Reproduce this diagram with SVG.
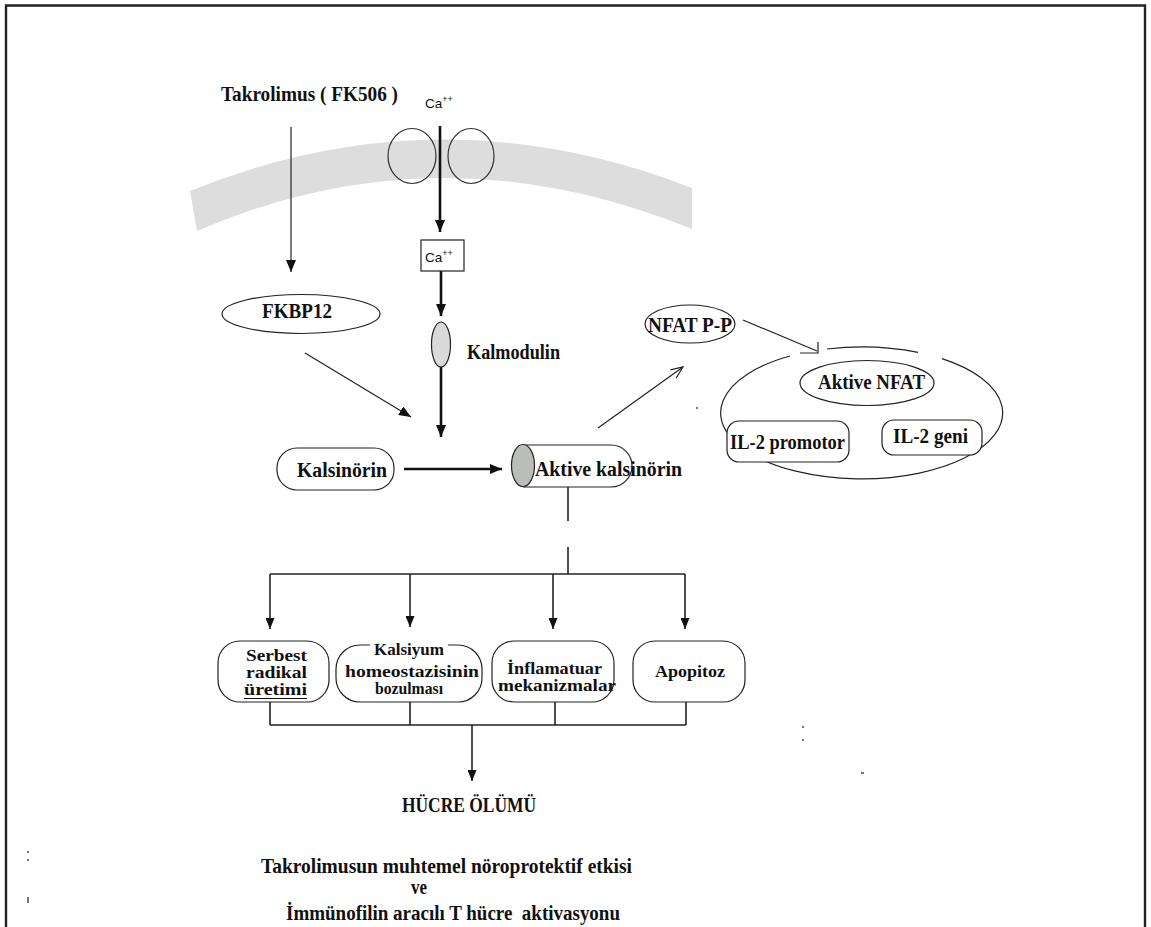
<svg xmlns="http://www.w3.org/2000/svg" width="1151" height="927" viewBox="0 0 1151 927">
<style>
.t{font-family:"Liberation Serif","Times New Roman",serif;font-weight:bold;font-size:20px;fill:#111}
.s{font-size:16px}
.big{font-size:20px}
.ca{font-family:"Liberation Sans",Arial,sans-serif;font-size:13.5px;fill:#111}
.n{fill:#fff;stroke:#222;stroke-width:1.2}
.thin{stroke:#222;stroke-width:1.2;fill:none}
.thick{stroke:#111;stroke-width:2.6;fill:none}
.mid{stroke:#222;stroke-width:1.6;fill:none}
</style>
<defs>
<marker id="ah" markerUnits="userSpaceOnUse" markerWidth="12" markerHeight="10" viewBox="0 0 12 10" refX="12" refY="5" orient="auto">
<path d="M0,0 L12,5 L0,10 Z" fill="#111"/>
</marker>
<marker id="ahs" markerUnits="userSpaceOnUse" markerWidth="11" markerHeight="9" viewBox="0 0 11 9" refX="11" refY="4.5" orient="auto">
<path d="M0,0 L11,4.5 L0,9 Z" fill="#111"/>
</marker>
<marker id="open" markerUnits="userSpaceOnUse" markerWidth="14" markerHeight="12" viewBox="0 0 14 12" refX="13" refY="6" orient="auto">
<path d="M1,1 L13,6 L1,11" fill="none" stroke="#222" stroke-width="1.2"/>
</marker>
</defs>

<!-- frame -->
<path d="M6,927 V5.5 H1145 V927" fill="none" stroke="#222" stroke-width="2.4"/>

<!-- membrane -->
<g id="membrane">
<path d="M190,191 Q440,89.5 692,188 L692,229 Q440,126 197,231 Z" fill="#dddddd"/>
<ellipse cx="412" cy="156" rx="24" ry="27.5" fill="none" stroke="#333" stroke-width="1.2"/>
<ellipse cx="471" cy="156" rx="23" ry="27.5" fill="none" stroke="#333" stroke-width="1.2"/>
</g>

<!-- connectors -->
<g id="connectors">
<line x1="291" y1="127" x2="291" y2="272" class="thin" marker-end="url(#ah)"/>
<line x1="440" y1="126" x2="440" y2="232" class="thick" marker-end="url(#ah)"/>
<line x1="441" y1="271" x2="441" y2="316" class="thick" marker-end="url(#ah)"/>
<line x1="441" y1="367" x2="441" y2="437" class="thick" marker-end="url(#ah)"/>
<line x1="305" y1="353" x2="411" y2="417" class="thin" marker-end="url(#ah)"/>
<line x1="404" y1="469" x2="502" y2="469" class="thick" marker-end="url(#ah)"/>
<line x1="598" y1="428" x2="683" y2="367" class="thin" marker-end="url(#open)"/>
<path d="M743,320 L817,351 M800,353 H818 V342" class="thin"/>
<line x1="568" y1="487" x2="568" y2="521" class="mid"/>
<line x1="568" y1="547" x2="568" y2="574" class="mid"/>
<path d="M270,574 H685" class="mid"/>
<line x1="270" y1="574" x2="270" y2="629" class="mid" marker-end="url(#ahs)"/>
<line x1="410" y1="574" x2="410" y2="627" class="mid" marker-end="url(#ahs)"/>
<line x1="553" y1="574" x2="553" y2="629" class="mid" marker-end="url(#ahs)"/>
<line x1="685" y1="574" x2="685" y2="629" class="mid" marker-end="url(#ahs)"/>
<path d="M270,702 V725 M410,702 V725 M555,702 V725 M686,702 V725 M270,725 H686" class="mid"/>
<line x1="472" y1="725" x2="472" y2="781" class="mid" marker-end="url(#ahs)"/>
</g>

<!-- nodes -->
<g id="takrolimus"><text class="t" x="221" y="101" textLength="177" lengthAdjust="spacingAndGlyphs">Takrolimus ( FK506 )</text></g>
<g id="ca-out"><text class="ca" x="425" y="108">Ca<tspan dy="-6" font-size="9">++</tspan></text></g>
<g id="ca-in">
<rect x="421" y="240" width="43" height="31" fill="#fff" stroke="#222" stroke-width="1.2"/>
<text class="ca" x="425" y="262">Ca<tspan dy="-6" font-size="9">++</tspan></text>
</g>
<g id="fkbp12">
<ellipse cx="301" cy="314" rx="79" ry="19.5" class="n"/>
<text class="t" x="262" y="318" textLength="70" lengthAdjust="spacingAndGlyphs">FKBP12</text>
</g>
<g id="kalmodulin">
<ellipse cx="441" cy="344.5" rx="9.5" ry="22.5" fill="#d9d9d9" stroke="#222" stroke-width="1.2"/>
<text class="t" x="467" y="359" textLength="93" lengthAdjust="spacingAndGlyphs">Kalmodulin</text>
</g>
<g id="kalsinorin">
<rect x="277" y="448" width="117" height="42" rx="20" class="n"/>
<text class="t" x="297" y="477" textLength="90" lengthAdjust="spacingAndGlyphs">Kalsinörin</text>
</g>
<g id="aktive-kalsinorin">
<path d="M523,445 H611 A21,21 0 0 1 611,487 H523" class="n"/>
<ellipse cx="523" cy="465.5" rx="11.5" ry="21" fill="#b9bfb8" stroke="#222" stroke-width="1.2"/>
<text class="t" x="535" y="476" textLength="147" lengthAdjust="spacingAndGlyphs">Aktive kalsinörin</text>
</g>
<g id="nfat-pp">
<ellipse cx="690" cy="324" rx="45" ry="19" class="n"/>
<text class="t" x="648" y="332" textLength="84" lengthAdjust="spacingAndGlyphs">NFAT P-P</text>
</g>
<g id="nucleus">
<path d="M827,349 A141,66 0 0 1 918,352.4 M942,358.6 A141,66 0 1 1 790,356" class="thin"/>
</g>
<g id="aktive-nfat">
<ellipse cx="867" cy="383" rx="67" ry="22.5" class="n"/>
<text class="t" x="818" y="389" textLength="107" lengthAdjust="spacingAndGlyphs">Aktive NFAT</text>
</g>
<g id="il2-promotor">
<rect x="727" y="421" width="122" height="41" rx="12" class="n"/>
<text class="t" x="730" y="449" textLength="115" lengthAdjust="spacingAndGlyphs">IL-2 promotor</text>
</g>
<g id="il2-geni">
<rect x="882" y="420" width="100" height="35" rx="12" class="n"/>
<text class="t" x="893" y="443" textLength="75" lengthAdjust="spacingAndGlyphs">IL-2 geni</text>
</g>
<g id="serbest">
<rect x="218" y="641" width="111" height="61" rx="22" class="n"/>
<text class="t s" x="246" y="661" textLength="61" lengthAdjust="spacingAndGlyphs">Serbest</text>
<text class="t s" x="246" y="678" textLength="61" lengthAdjust="spacingAndGlyphs">radikal</text>
<text class="t s" x="244" y="695" textLength="63" lengthAdjust="spacingAndGlyphs">üretimi</text>
<line x1="244" y1="698.5" x2="307" y2="698.5" stroke="#111" stroke-width="1.2"/>
</g>
<g id="kalsiyum">
<rect x="336" y="645" width="146" height="57" rx="24" class="n"/>
<rect x="370" y="640" width="78" height="17" fill="#fff"/>
<text class="t s" x="374" y="655" textLength="70" lengthAdjust="spacingAndGlyphs">Kalsiyum</text>
<text class="t s" x="345" y="677" textLength="134" lengthAdjust="spacingAndGlyphs">homeostazisinin</text>
<text class="t s" x="375" y="694" textLength="68" lengthAdjust="spacingAndGlyphs">bozulması</text>
</g>
<g id="inflamatuar">
<rect x="492" y="641" width="122" height="61" rx="22" class="n"/>
<text class="t s" x="507" y="674" textLength="95" lengthAdjust="spacingAndGlyphs">İnflamatuar</text>
<text class="t s" x="498" y="691" textLength="118" lengthAdjust="spacingAndGlyphs">mekanizmalar</text>
</g>
<g id="apopitoz">
<rect x="633" y="641" width="112" height="61" rx="22" class="n"/>
<text class="t s" x="655" y="677" textLength="70" lengthAdjust="spacingAndGlyphs">Apopitoz</text>
</g>
<g id="hucre-olumu">
<text class="t big" x="402" y="812" textLength="134" lengthAdjust="spacingAndGlyphs">HÜCRE ÖLÜMÜ</text>
</g>
<g id="caption">
<text class="t big" x="261" y="873" textLength="371" lengthAdjust="spacingAndGlyphs">Takrolimusun muhtemel nöroprotektif etkisi</text>
<text class="t big" x="411" y="894" textLength="16" lengthAdjust="spacingAndGlyphs">ve</text>
<text class="t big" x="286" y="920" textLength="334" lengthAdjust="spacingAndGlyphs" style="white-space:pre">İmmünofilin aracılı T hücre  aktivasyonu</text>
</g>

<!-- stray specks -->
<g fill="#777">
<rect x="696" y="407" width="2" height="2"/>
<rect x="802" y="726" width="2" height="2"/>
<rect x="802" y="739" width="2" height="2"/>
<rect x="861" y="772" width="3" height="2"/>
<rect x="27" y="851" width="2" height="2"/>
<rect x="27" y="859" width="2" height="2"/>
<rect x="27" y="897" width="2" height="6"/>
</g>
</svg>
